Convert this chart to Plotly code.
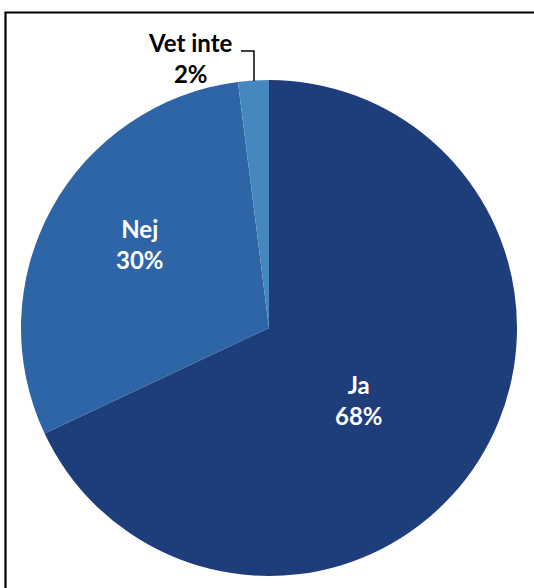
import plotly.graph_objects as go

# Survey answers and their shares (percent)
labels = ["Ja", "Nej", "Vet inte"]
values = [68, 30, 2]
colors = ["#1E3D7B", "#2D65A6", "#4588BF"]

W, H = 534, 588

def px(x):
    return x / W

def py(y):
    return 1 - y / H

fig = go.Figure(
    go.Pie(
        labels=labels,
        values=values,
        sort=False,
        direction="clockwise",
        rotation=0,
        marker=dict(colors=colors, line=dict(width=0)),
        textinfo="none",
        hoverinfo="label+percent",
        showlegend=False,
        domain=dict(x=[px(21), px(517)], y=[py(576), py(80)]),
    )
)

font_family = "Lato, 'Open Sans', sans-serif"
label_pos = {
    "Ja": (359, 400, "white"),
    "Nej": (140, 244, "white"),
    "Vet inte": (190, 58, "black"),
}
annotations = []
for lab, val in zip(labels, values):
    x, y, col = label_pos[lab]
    annotations.append(
        dict(
            x=px(x), y=py(y), xref="paper", yref="paper",
            text=f"<b>{lab}<br>{val}%</b>",
            showarrow=False,
            font=dict(family=font_family, size=24, color=col),
            align="center",
            xanchor="center", yanchor="middle",
        )
    )

shapes = [
    # leader line for the small slice
    dict(type="path", xref="paper", yref="paper",
         path=f"M {px(254)} {py(81)} L {px(254)} {py(51)} L {px(241)} {py(51)}",
         line=dict(color="black", width=1.5)),
    # outer frame
    dict(type="rect", xref="paper", yref="paper",
         x0=px(5.5), y0=py(600), x1=px(545), y1=py(12.5),
         line=dict(color="black", width=2.2)),
]

fig.update_layout(
    width=W, height=H,
    margin=dict(l=0, r=0, t=0, b=0),
    paper_bgcolor="white",
    plot_bgcolor="white",
    annotations=annotations,
    shapes=shapes,
)

fig.write_html("out.html")
